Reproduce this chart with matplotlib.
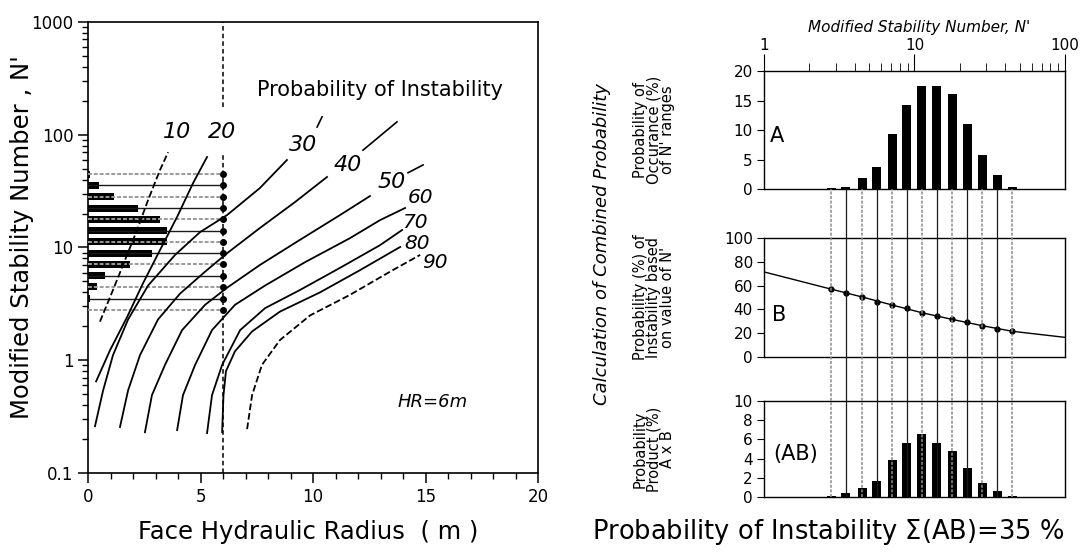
import matplotlib
matplotlib.use('Agg')
import matplotlib.pyplot as plt
from matplotlib.ticker import LogLocator, NullFormatter, FixedLocator

# ---- data ----
# N' class centres shared by all panels
n_bins = [2.8, 3.5, 4.5, 5.6, 7.1, 8.9, 11.2, 14.1, 17.8, 22.4, 28.2, 35.5, 44.7]
prob_a = [0.1, 0.4, 1.9, 3.8, 9.4, 14.2, 17.5, 17.5, 16.1, 11.0, 5.8, 2.4, 0.4]
prob_b = [57.0, 53.5, 50.4, 46.5, 43.7, 40.9, 37.2, 34.4, 31.6, 29.1, 26.3, 23.5, 21.6]
prob_ab = [0.07, 0.4, 0.9, 1.7, 3.9, 5.6, 6.6, 5.6, 4.8, 3.0, 1.5, 0.6, 0.1]
b_curve_n = [1.0, 2.8, 4.5, 7.1, 11.2, 17.8, 28.2, 44.7, 100.0]
b_curve_p = [71.5, 57.0, 50.4, 43.7, 37.2, 31.6, 26.3, 21.6, 16.5]

hr_design = 6.0
dashed_gap = (66, 175)      # N' range where the HR=6 line is broken by the "20" label
hist_scale = 0.2            # metres of HR per % of occurrence (left histogram)

# iso-probability curves: (HR, N')
curve_10_hr = [0.53, 1.11, 1.64, 2.18, 2.67, 3.20, 3.56]
curve_10_n = [2.2, 4.2, 7.7, 14.3, 26.4, 48.7, 70.0]
curve_20_hr = [0.36, 0.98, 1.73, 2.44, 3.20, 3.96, 4.67, 5.29]
curve_20_n = [0.65, 1.23, 2.4, 4.8, 9.5, 18.7, 37.3, 63.5]
curve_30_hr = [0.31, 0.67, 1.11, 1.78, 2.67, 3.87, 4.98, 6.18, 7.64, 8.84]
curve_30_n = [0.26, 0.54, 1.11, 2.3, 4.6, 8.6, 13.7, 19.4, 33.7, 59.7]
curve_40_hr = [1.42, 1.78, 2.31, 3.11, 4.09, 5.20, 6.18, 7.64, 9.20, 10.62]
curve_40_n = [0.256, 0.54, 1.11, 2.3, 3.9, 6.1, 8.9, 14.9, 25.3, 42.2]
curve_50_hr = [2.53, 2.84, 3.42, 4.18, 5.20, 6.18, 7.64, 9.42, 11.20, 12.53]
curve_50_n = [0.23, 0.49, 0.91, 1.85, 3.1, 4.4, 7.0, 11.7, 19.4, 28.6]
curve_60_hr = [3.96, 4.22, 4.76, 5.51, 6.53, 7.87, 9.64, 11.64, 12.98, 14.09]
curve_60_n = [0.24, 0.49, 0.91, 1.85, 3.1, 4.6, 7.4, 12.1, 17.5, 22.4]
curve_70_hr = [5.29, 5.51, 5.96, 6.76, 7.87, 9.42, 11.20, 12.98, 13.96]
curve_70_n = [0.226, 0.49, 0.91, 1.85, 2.9, 4.2, 6.6, 10.5, 14.3]
curve_80_hr = [5.96, 6.02, 6.13, 6.53, 7.29, 8.53, 10.31, 12.09, 13.87]
curve_80_n = [0.23, 0.49, 0.8, 1.2, 1.8, 2.7, 4.0, 6.3, 10.1]
curve_90_hr = [7.07, 7.29, 7.73, 8.53, 9.87, 11.64, 13.42, 14.76]
curve_90_n = [0.245, 0.49, 0.91, 1.51, 2.5, 3.8, 6.1, 8.6]

# short stubs above some labels
stub_30 = ([10.18, 10.40], [117, 144])
stub_40 = ([12.22, 13.73], [73, 130])
stub_50 = ([14.22, 14.89], [46, 54])

curve_labels = ['10', '20', '30', '40', '50', '60', '70', '80', '90']
label_hr = [3.96, 5.96, 9.56, 11.56, 13.51, 14.76, 14.53, 14.62, 15.42]
label_n = [106, 106, 81, 54, 38, 27.5, 16.5, 10.8, 7.3]

plt.rcParams['font.family'] = 'DejaVu Sans'

fig = plt.figure(figsize=(10.8, 5.54), dpi=100)

# ---------------- left chart ----------------
ax = fig.add_axes([0.0815, 0.1462, 0.4167, 0.8141])
ax.set_yscale('log')
ax.set_xlim(0, 20)
ax.set_ylim(0.1, 1000)
ax.set_xticks(range(0, 21, 5))
ax.set_xticks(range(0, 21), minor=True)
ax.set_yticks([0.1, 1, 10, 100, 1000])
ax.set_yticklabels(['0.1', '1', '10', '100', '1000'])
ax.yaxis.set_minor_locator(LogLocator(base=10, subs=range(2, 10)))
ax.yaxis.set_minor_formatter(NullFormatter())
ax.tick_params(which='major', direction='out', length=7, width=1.1, labelsize=12)
ax.tick_params(which='minor', direction='out', length=4, width=1.0)
for s in ax.spines.values():
    s.set_linewidth(1.2)

# horizontal histogram of A along the N' axis
bar_lo = [n * 10 ** -0.031 for n in n_bins]
bar_h = [n * (10 ** 0.031 - 10 ** -0.031) for n in n_bins]
ax.barh(bar_lo, [a * hist_scale for a in prob_a], height=bar_h, left=0,
        align='edge', color='black', zorder=2)

for k, n in enumerate(n_bins):
    if k % 2 == 0:
        ax.plot([0, hr_design], [n, n], color='#9a9a9a', lw=1.4, ls=(0, (2, 1)), zorder=3)
    else:
        ax.plot([0, hr_design], [n, n], color='#1a1a1a', lw=1.0, zorder=3)
ax.plot([hr_design] * len(n_bins), n_bins, 'o', color='black', ms=4, zorder=4)

ax.plot([hr_design, hr_design], [0.1, dashed_gap[0]], color='black', lw=1.1,
        ls=(0, (3, 2)), zorder=4)
ax.plot([hr_design, hr_design], [dashed_gap[1], 1000], color='black', lw=1.1,
        ls=(0, (3, 2)), zorder=4)

curves = [
    (curve_10_hr, curve_10_n, '--'),
    (curve_20_hr, curve_20_n, '-'),
    (curve_30_hr, curve_30_n, '-'),
    (curve_40_hr, curve_40_n, '-'),
    (curve_50_hr, curve_50_n, '-'),
    (curve_60_hr, curve_60_n, '-'),
    (curve_70_hr, curve_70_n, '-'),
    (curve_80_hr, curve_80_n, '-'),
    (curve_90_hr, curve_90_n, '--'),
]
for hr, n, ls in curves:
    ax.plot(hr, n, color='black', lw=1.3, ls=ls, zorder=3)
for stub in (stub_30, stub_40, stub_50):
    ax.plot(stub[0], stub[1], color='black', lw=1.2)

for lab, x, y in zip(curve_labels, label_hr, label_n):
    size = 16 if lab in ('10', '20', '30', '40', '50') else 14.5
    ax.text(x, y, lab, fontsize=size, style='italic', ha='center', va='center')

ax.text(0.649, 0.849, 'Probability of Instability', transform=ax.transAxes,
        fontsize=15, ha='center', va='center')
ax.text(15.3, 0.43, 'HR=6m', fontsize=13, style='italic', ha='center', va='center')

ax.set_xlabel('Face Hydraulic Radius  ( m )', fontsize=17.5)
ax.xaxis.set_label_coords(0.489, -0.104)
ax.set_ylabel("Modified Stability Number , N'", fontsize=17.5)
ax.yaxis.set_label_coords(-0.12, 0.523)

# ---------------- right chart ----------------
rx, rw = 0.7074, 0.2787
axA = fig.add_axes([rx, 0.6588, rw, 0.2130])
axB = fig.add_axes([rx, 0.3556, rw, 0.2148])
axC = fig.add_axes([rx, 0.1029, rw, 0.1733])
link = fig.add_axes([rx, 0.1029, rw, 0.6588 - 0.1029])

col_lo = [n * 10 ** -0.03 for n in n_bins]
col_w = [n * (10 ** 0.03 - 10 ** -0.03) for n in n_bins]

for a in (axA, axB, axC, link):
    a.set_xscale('log')
    a.set_xlim(1, 100)
    for s in a.spines.values():
        s.set_linewidth(1.0)

link.axis('off')
link.patch.set_alpha(0)
link.set_ylim(0, 1)
for k, n in enumerate(n_bins):
    if k % 2 == 0:
        link.axvline(n, color='#8c8c8c', lw=1.1, ls=(0, (2, 1)))
    else:
        link.axvline(n, color='#1a1a1a', lw=0.9)

axA.bar(col_lo, prob_a, width=col_w, align='edge', color='black')
axA.set_ylim(0, 20)
axA.set_yticks(range(0, 21, 5))
axA.xaxis.tick_top()
axA.xaxis.set_major_locator(FixedLocator([1, 10, 100]))
axA.set_xticklabels(['1', '10', '100'])
axA.xaxis.set_minor_locator(LogLocator(base=10, subs=range(2, 10)))
axA.xaxis.set_minor_formatter(NullFormatter())
axA.tick_params(axis='x', which='major', direction='out', length=12, labelsize=11, pad=1)
axA.tick_params(axis='x', which='minor', direction='out', length=6)
axA.text(0.515, 1.37, "Modified Stability Number, N'", transform=axA.transAxes,
         style='italic', fontsize=11, ha='center', va='center')
axA.text(0.02, 0.45, 'A', transform=axA.transAxes, fontsize=15, va='center')
axA.set_ylabel("Probability of\nOccurance (%)\nof N' ranges", fontsize=10.5,
               linespacing=0.88)

axB.plot(b_curve_n, b_curve_p, color='black', lw=1.0)
axB.plot(n_bins, prob_b, 'o', color='black', ms=3.5)
axB.set_ylim(0, 100)
axB.set_yticks(range(0, 101, 20))
axB.set_xticks([])
axB.set_xticks([], minor=True)
axB.text(0.025, 0.35, 'B', transform=axB.transAxes, fontsize=15, va='center')
axB.set_ylabel("Probability (%) of\nInstability based\non value of N'", fontsize=10.5,
               linespacing=0.88)

axC.bar(col_lo, prob_ab, width=col_w, align='edge', color='black')
axC.set_ylim(0, 10)
axC.set_yticks(range(0, 11, 2))
axC.set_xticks([])
axC.set_xticks([], minor=True)
axC.text(0.03, 0.45, '(AB)', transform=axC.transAxes, fontsize=15, va='center')
axC.set_ylabel("Probability\nProduct (%)\nA x B", fontsize=10.5, linespacing=0.88)

for a in (axA, axB, axC):
    a.tick_params(axis='y', direction='out', length=5, labelsize=11, pad=3)
    a.yaxis.set_label_coords(-0.296, 0.5)

fig.text(0.557, 0.56, 'Calculation of Combined Probability', rotation=90,
         style='italic', fontsize=13, ha='center', va='center')
fig.text(0.767, 0.04, r'Probability of Instability $\Sigma$(AB)=$\mathit{35}$ %',
         fontsize=18.5, ha='center', va='center')

fig.savefig('out.png', dpi=100)
